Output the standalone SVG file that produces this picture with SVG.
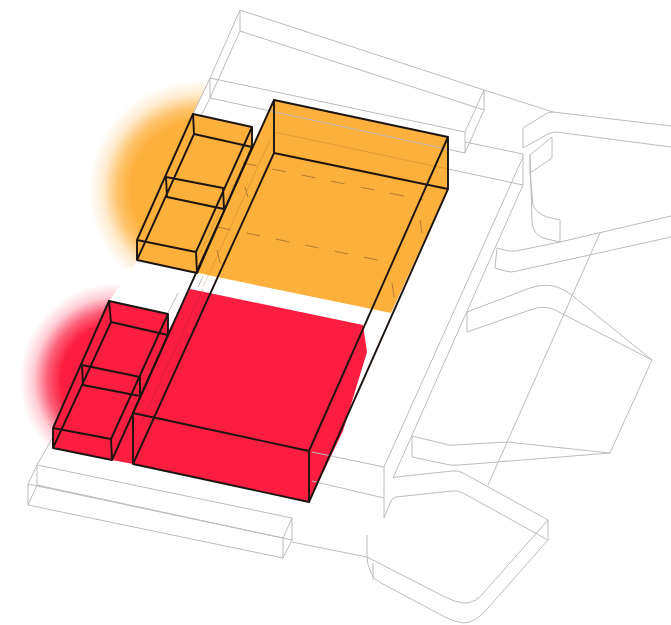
<svg xmlns="http://www.w3.org/2000/svg" width="671" height="625" viewBox="0 0 671 625">
<style>
.g{fill:none;stroke:#bcbcbc;stroke-width:1;stroke-linejoin:round}
.k{fill:none;stroke:#1c1410;stroke-width:1.9;stroke-linejoin:round;stroke-linecap:round}
.d{fill:none;stroke:#9a6a2c;stroke-width:1;stroke-opacity:.75}
.f{fill:none;stroke:#9a6a2c;stroke-width:.8;stroke-opacity:.35}
.v{fill:none;stroke:#a81a35;stroke-width:.8;stroke-opacity:.45}
.o{fill:#fdb03c}
.r{fill:#fb1e41}
</style>
<defs>
<radialGradient id="og" gradientUnits="userSpaceOnUse" cx="199" cy="190" r="110">
<stop offset="0" stop-color="#fdb03c"/><stop offset=".62" stop-color="#fdb03c"/><stop offset=".74" stop-color="#fdb03c" stop-opacity=".75"/><stop offset=".87" stop-color="#fdb03c" stop-opacity=".25"/><stop offset="1" stop-color="#fdb03c" stop-opacity="0"/>
</radialGradient>
<radialGradient id="rg" gradientUnits="userSpaceOnUse" cx="117" cy="380" r="97">
<stop offset="0" stop-color="#fb1e41"/><stop offset=".58" stop-color="#fb1e41"/><stop offset=".72" stop-color="#fb1e41" stop-opacity=".7"/><stop offset=".86" stop-color="#fb1e41" stop-opacity=".22"/><stop offset="1" stop-color="#fb1e41" stop-opacity="0"/>
</radialGradient>
<clipPath id="oc"><polygon points="212,76 193,114 137,260 133,268 0,268 0,76"/></clipPath>
<clipPath id="rc"><polygon points="137,262 109,301 53,448 44,470 0,470 0,262"/></clipPath>
</defs>
<g id="glow">
<circle cx="199" cy="190" r="110" fill="url(#og)" clip-path="url(#oc)"/>
<circle cx="117" cy="380" r="97" fill="url(#rg)" clip-path="url(#rc)"/>
</g>
<g id="fills">
<polygon class="o" points="274,100 448,137 448,189 391,313 193,272 197,273 137,260 137,240 193,114 252,127 252,146"/>
<polygon class="r" points="190,289 363,325 367,352 343,431 309,502 133,464 112,460 53,448 53,428 109,301 168,314 168,332"/>
</g>
<g id="context">
<path class="g" d="M240,10 484,90 465,132 210,78Z M240,31 484,110 465,153 210,98Z M240,10V31 M484,90V110 M465,132V153 M210,78V98"/>
<path class="g" d="M210,78 193,114 M210,98 200,118 M484,90 553,112 M465,142 523,154 M448,169 523,185 M523,154V185"/>
<path class="f" d="M274,132 448,169 M253,147 197,258 M270,140 203,287"/>
<path class="g" d="M178,293 168,313 M203,276 198,287"/>
<path class="v" d="M203,289 140,425"/>
<path class="g" d="M523,157 384,467 M523,185 393,478 M312,452 384,467 M312,481 384,498 M384,467V518"/>
<path class="g" d="M600,233 488,485"/>
<path class="g" d="M671,126 553,112Q548,112 544,115L523,128V148L548,134Q552,132 556,132L671,147"/>
<path class="g" d="M552,137 530,155V173L552,158Z M530,155 532,222Q533,234 543,238L560,242V220L547,217Q536,213 533,205L530,173"/>
<path class="g" d="M671,216 560,242 516,251Q511,252 505,250L497,248 495,268 505,271Q511,273 517,271L671,237"/>
<path class="g" d="M467,312 530,288Q545,283 557,287 566,290 573,296L652,360 610,453 507,442 455,445Q450,446 445,444L412,436V457L445,464Q452,466 460,465L610,453"/>
<path class="g" d="M467,312V332L530,310Q545,304 557,311L652,360"/>
<path class="g" d="M384,518 391,501Q392,498 396,497L452,491Q458,490 463,493L548,540V520L463,473Q458,470 452,471L396,477 393,478"/>
<path class="g" d="M548,520 486,590Q476,604 463,603 455,602 445,597L367,557V535 M548,540 488,608Q476,623 463,623 455,622 445,617L381,583Q373,579 371,573 367,564 367,557 M373,563V580"/>
<path class="g" d="M37,465 292,518 283,538 28,484Z M37,485 292,540 283,558 28,505Z M37,465V485 M292,518V540 M283,538V558 M28,484V505 M53,437 37,465 M292,542 367,557"/>
</g>
<g id="dashes">
<path class="d" stroke-dasharray="14 16" d="M243,163 423,200"/>
<path class="d" stroke-dasharray="14 16" d="M217,227 392,263"/>
<path class="d" d="M245,187 248,197 M217,250 220,263 M420,220 422,233 M392,283 394,297"/>
</g>
<g id="orange-annex">
<path class="k" d="M193,114 252,127 252,147 194,134Z M193,114 137,240 137,260 197,273 196,252 252,127 M194,134 137,260 M252,147 197,273 M137,240 196,252 M166,177 223,188 224,209 167,197Z"/>
</g>
<g id="red-annex">
<path class="k" d="M109,301 168,314 168,335 111,322Z M109,301 53,428 53,448 112,460 111,439 168,314 M111,322 53,448 M168,335 112,460 M53,428 111,439 M82,365 140,377 140,396 83,385Z"/>
</g>
<g id="main-volume">
<path class="k" d="M274,100 448,137 448,189 274,153Z M274,100 133,413 133,464 309,502 309,451 448,137 M274,153 133,464 M448,189 309,502 M133,413 309,451"/>
</g>
</svg>
